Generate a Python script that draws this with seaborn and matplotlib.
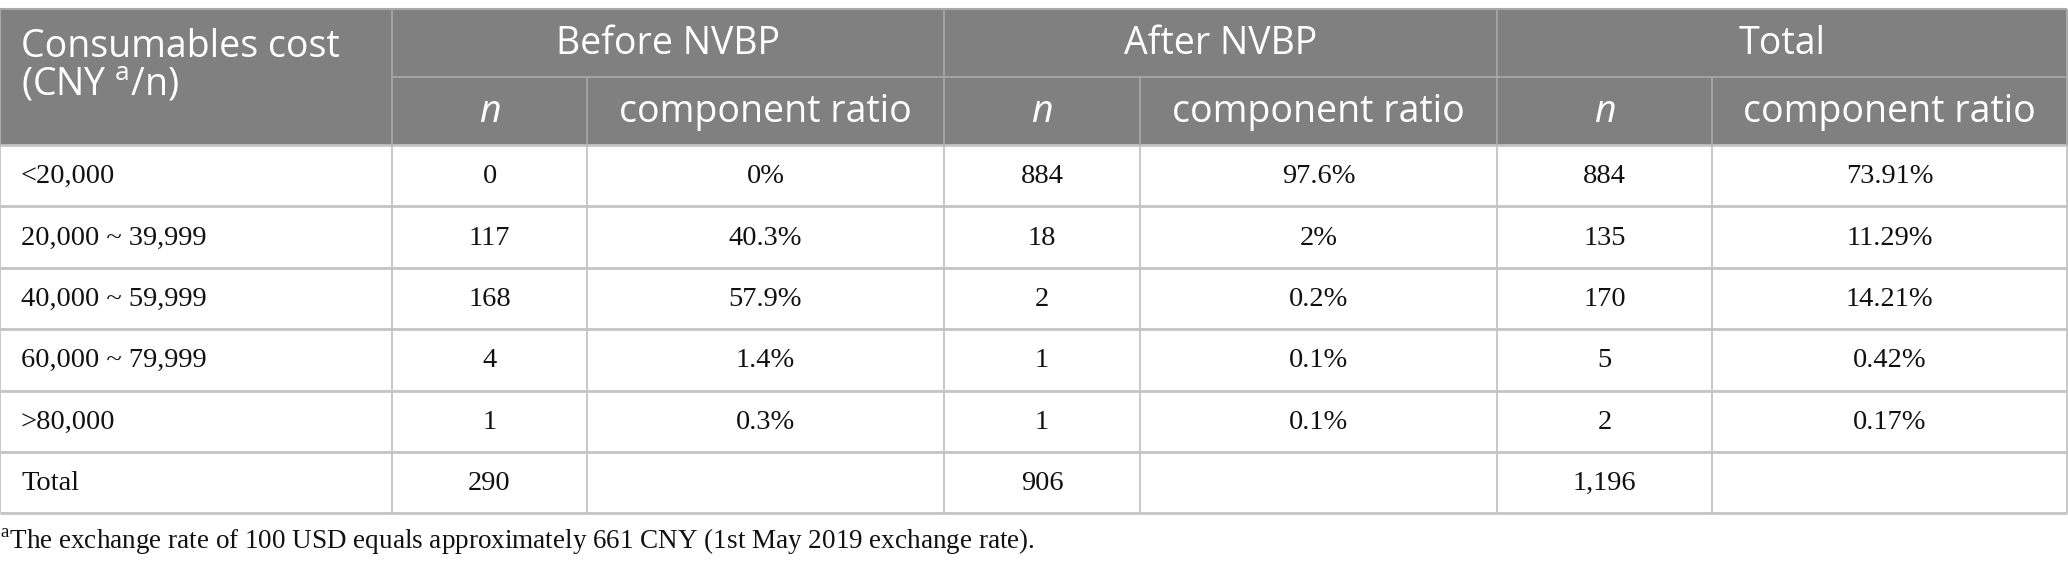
import matplotlib
matplotlib.use("Agg")
import matplotlib.pyplot as plt
import seaborn as sns

# Table data
cost_bands = ["<20,000", "20,000 ~ 39,999", "40,000 ~ 59,999",
              "60,000 ~ 79,999", ">80,000", "Total"]
before_n = ["0", "117", "168", "4", "1", "290"]
before_ratio = ["0%", "40.3%", "57.9%", "1.4%", "0.3%", ""]
after_n = ["884", "18", "2", "1", "1", "906"]
after_ratio = ["97.6%", "2%", "0.2%", "0.1%", "0.1%", ""]
total_n = ["884", "135", "170", "5", "2", "1,196"]
total_ratio = ["73.91%", "11.29%", "14.21%", "0.42%", "0.17%", ""]

groups = ["Before NVBP", "After NVBP", "Total"]
sub_labels = ["n", "component ratio"]
first_header = "Consumables cost\n(CNY $^\\mathregular{a}$/n)"
footnote = ("$^\\mathregular{a}$The exchange rate of 100 USD equals approximately "
            "661 CNY (1st May 2019 exchange rate).")

# Layout (pixels)
W, H = 2068, 570
col_edges = [0, 392, 587, 944, 1140, 1497, 1712, 2067]
head_top, head_mid, head_bot = 9, 77, 145
row_h = 61.4

header_fill = "#7f807f"
header_line = "#a9a9a9"
grid_line = "#c4c4c4"
head_font = "Open Sans"
body_font = "Liberation Serif"

sns.set_theme(style="white")
plt.rcParams["font.family"] = [body_font, "DejaVu Sans"]

fig = plt.figure(figsize=(W / 100, H / 100), dpi=100)
ax = fig.add_axes([0, 0, 1, 1])
ax.set_xlim(0, W)
ax.set_ylim(H, 0)
ax.axis("off")

# header background
ax.add_patch(plt.Rectangle((col_edges[0], head_top), col_edges[-1] - col_edges[0],
                           head_bot - head_top, facecolor=header_fill,
                           edgecolor="none", zorder=1))
ax.hlines(head_top, col_edges[0], col_edges[-1], color=header_line, lw=1.5, zorder=3)
ax.hlines(head_mid, col_edges[1], col_edges[-1], color=header_line, lw=1.2, zorder=3)
for i, x in enumerate(col_edges):
    if i in (0, len(col_edges) - 1):
        ax.vlines(x, head_top, head_bot, color=header_line, lw=1.5, zorder=3)
    elif i % 2 == 1:
        ax.vlines(x, head_top, head_bot, color=header_line, lw=1.2, zorder=3)
    else:
        ax.vlines(x, head_mid, head_bot, color=header_line, lw=1.2, zorder=3)

# header text
ax.text(col_edges[0] + 21, 66, first_header,
        ha="left", va="center", color="white", fontsize=27,
        family=[head_font, "DejaVu Sans"], linespacing=1.0, zorder=4)
for g, name in enumerate(groups):
    x0, x1 = col_edges[1 + 2 * g], col_edges[3 + 2 * g]
    ax.text((x0 + x1) / 2, (head_top + head_mid) / 2 + 1, name, ha="center",
            va="center", color="white", fontsize=27,
            family=[head_font, "DejaVu Sans"], zorder=4)
    for s, lab in enumerate(sub_labels):
        c0, c1 = col_edges[1 + 2 * g + s], col_edges[2 + 2 * g + s]
        ax.text((c0 + c1) / 2, (head_mid + head_bot) / 2 + 1, lab, ha="center",
                va="center", color="white", fontsize=27,
                style="italic" if lab == "n" else "normal",
                family=[head_font, "DejaVu Sans"], zorder=4)

# body
columns = [cost_bands, before_n, before_ratio, after_n, after_ratio, total_n, total_ratio]
n_rows = len(cost_bands)
body_bot = head_bot + n_rows * row_h
for r in range(n_rows + 1):
    y = head_bot + r * row_h
    ax.hlines(y, col_edges[0], col_edges[-1], color=grid_line, lw=2, zorder=2)
for x in col_edges:
    ax.vlines(x, head_bot, body_bot, color=grid_line, lw=1.3, zorder=2)

for c, vals in enumerate(columns):
    for r, v in enumerate(vals):
        yc = head_bot + (r + 0.5) * row_h + 1
        if c == 0:
            ax.text(col_edges[0] + 21, yc, v, ha="left", va="center",
                    fontsize=20.5, color="#111111", zorder=4)
        else:
            ax.text((col_edges[c] + col_edges[c + 1]) / 2, yc, v, ha="center",
                    va="center", fontsize=20.5, color="#111111", zorder=4)

ax.text(0, body_bot + 28, footnote, ha="left", va="center", fontsize=19.5,
        color="#111111", zorder=4)

fig.savefig("out.png", dpi=100, facecolor="white")
